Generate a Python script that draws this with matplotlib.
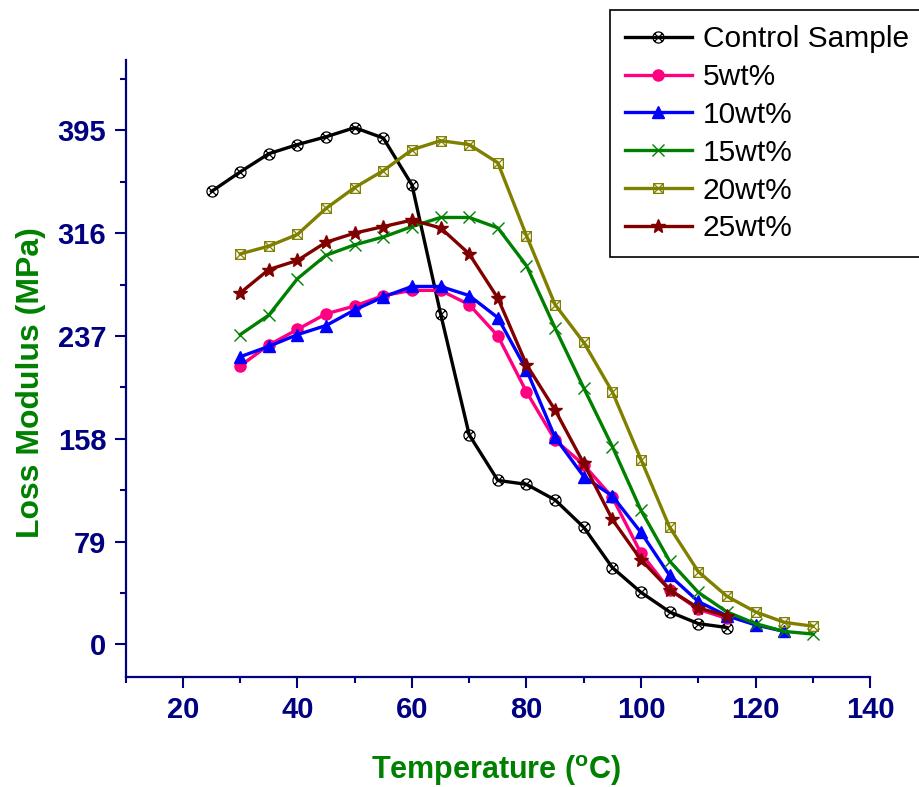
import numpy as np
import matplotlib
matplotlib.use("Agg")
import matplotlib.pyplot as plt
from matplotlib.path import Path
from matplotlib.ticker import MultipleLocator

plt.rcParams["font.family"] = ["Liberation Sans", "DejaVu Sans"]
plt.rcParams["mathtext.fontset"] = "custom"
plt.rcParams["mathtext.rm"] = "Liberation Sans"
plt.rcParams["mathtext.bf"] = "Liberation Sans:bold"

# temperatures (C)
temp_control = [25, 30, 35, 40, 45, 50, 55, 60, 65, 70, 75, 80, 85, 90, 95, 100, 105, 110, 115]
temp_5 = [30, 35, 40, 45, 50, 55, 60, 65, 70, 75, 80, 85, 90, 95, 100, 105, 110, 115]
temp_10 = [30, 35, 40, 45, 50, 55, 60, 65, 70, 75, 80, 85, 90, 95, 100, 105, 110, 115, 120, 125]
temp_15 = [30, 35, 40, 45, 50, 55, 60, 65, 70, 75, 80, 85, 90, 95, 100, 105, 110, 115, 120, 125, 130]
temp_20 = [30, 35, 40, 45, 50, 55, 60, 65, 70, 75, 80, 85, 90, 95, 100, 105, 110, 115, 120, 125, 130]
temp_25 = [30, 35, 40, 45, 50, 55, 60, 65, 70, 75, 80, 85, 90, 95, 100, 105, 110, 115]

# loss modulus (MPa)
loss_control = [348, 363, 377, 384, 390, 397, 389, 353, 254, 161, 126, 123, 111, 90, 59, 40, 25, 16, 13]
loss_5 = [214, 230, 242, 254, 260, 268, 272, 272, 261, 237, 194, 157, 138, 113, 70, 42, 27, 20]
loss_10 = [221, 229, 238, 245, 257, 267, 275, 275, 268, 251, 211, 159, 129, 114, 86, 53, 33, 22, 15, 10]
loss_15 = [238, 253, 281, 299, 307, 313, 321, 328, 328, 320, 291, 243, 197, 152, 103, 64, 40, 25, 16, 10, 8]
loss_20 = [300, 306, 315, 335, 351, 364, 380, 387, 384, 370, 314, 261, 232, 194, 142, 90, 56, 37, 25, 17, 14]
loss_25 = [270, 288, 295, 309, 316, 321, 326, 320, 300, 266, 215, 180, 139, 96, 65, 42, 28, 22]

labels = ["Control Sample", "5wt%", "10wt%", "15wt%", "20wt%", "25wt%"]
yticks = [0, 79, 158, 237, 316, 395]
xticks = [20, 40, 60, 80, 100, 120, 140]

navy = "#000080"
green = "#008000"

# circle / square with a cross inside
cross = Path([(-0.7, -0.7), (0.7, 0.7), (-0.7, 0.7), (0.7, -0.7)],
             [Path.MOVETO, Path.LINETO, Path.MOVETO, Path.LINETO])
circ_x = Path.make_compound_path(Path.unit_circle(), cross)
sq = Path([(-1, -1), (1, -1), (1, 1), (-1, 1), (-1, -1)],
          [Path.MOVETO, Path.LINETO, Path.LINETO, Path.LINETO, Path.CLOSEPOLY])
cross2 = Path([(-1, -1), (1, 1), (-1, 1), (1, -1)],
              [Path.MOVETO, Path.LINETO, Path.MOVETO, Path.LINETO])
sq_x = Path.make_compound_path(sq, cross2)

fig = plt.figure(figsize=(9.2, 7.87), dpi=100)
ax = fig.add_axes([0.1366, 0.1398, 0.8091, 0.784])

lw = 2.4
ax.plot(temp_control, loss_control, color="black", lw=lw, marker=circ_x, ms=8,
        mfc="none", mec="black", mew=0.9, label=labels[0])
ax.plot(temp_5, loss_5, color="#FF0080", lw=lw, marker="o", ms=8,
        mfc="#FF0080", mec="#FF0080", label=labels[1])
ax.plot(temp_10, loss_10, color="blue", lw=lw, marker="^", ms=8.5,
        mfc="blue", mec="blue", label=labels[2])
ax.plot(temp_15, loss_15, color=green, lw=lw, marker="x", ms=8,
        mec=green, mew=1.0, label=labels[3])
ax.plot(temp_20, loss_20, color="#808000", lw=lw, marker=sq_x, ms=7,
        mfc="none", mec="#808000", mew=0.9, label=labels[4])
ax.plot(temp_25, loss_25, color="#800000", lw=lw, marker="*", ms=10,
        mfc="#800000", mec="#800000", label=labels[5])

ax.set_xlim(10, 140)
ax.set_ylim(-25, 449)
ax.set_xticks(xticks)
ax.set_yticks(yticks)
ax.xaxis.set_minor_locator(MultipleLocator(10))
ax.yaxis.set_minor_locator(MultipleLocator(39.5))

for s in ["top", "right"]:
    ax.spines[s].set_visible(False)
for s in ["left", "bottom"]:
    ax.spines[s].set_color(navy)
    ax.spines[s].set_linewidth(1.6)

ax.tick_params(which="major", direction="out", length=8, width=1.5, color=navy,
               labelcolor=navy, labelsize=21, pad=6)
ax.tick_params(which="minor", direction="out", length=4.5, width=1.5, color=navy)
for t in ax.get_xticklabels() + ax.get_yticklabels():
    t.set_fontweight("bold")

ax.set_xlabel(r"Temperature ($^{\mathbf{o}}$C)", fontsize=22, fontweight="bold", color=green)
ax.set_ylabel("Loss Modulus (MPa)", fontsize=23, fontweight="bold", color=green)
ax.xaxis.set_label_coords(0.498, -0.123)
ax.yaxis.set_label_coords(-0.107, 0.477)

leg = fig.legend(loc="upper left", bbox_to_anchor=(0.663, 0.987), borderaxespad=0,
                 fontsize=21.5, handlelength=2.25, handletextpad=0.35, labelspacing=0.33,
                 borderpad=0.5, fancybox=False, edgecolor="black", framealpha=1)
leg.get_frame().set_linewidth(1.2)

fig.savefig("out.png", dpi=100)
